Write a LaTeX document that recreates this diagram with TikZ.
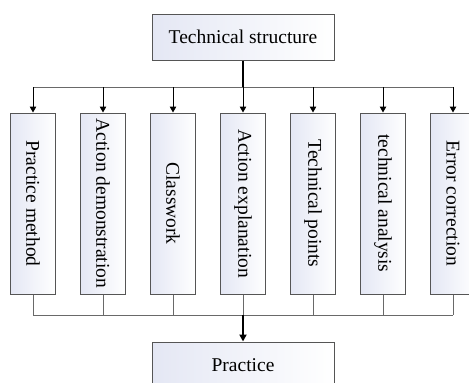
\documentclass[tikz,border=0pt]{standalone}
\usepackage{fontspec}
\setmainfont{Liberation Serif}
\usepackage{tikz}
\usetikzlibrary{positioning, arrows.meta}
\definecolor{boxleft}{RGB}{228,231,244}
\definecolor{boxline}{RGB}{85,85,85}
\definecolor{busline}{RGB}{105,105,105}

\begin{document}
\begin{tikzpicture}[x=1pt, y=-1pt,
    box/.style={draw=boxline, line width=1pt, left color=boxleft, right color=white,
        inner sep=0pt, font=\fontsize{19.5}{22}\selectfont, text=black},
    headbox/.style={box, minimum width=182pt, minimum height=46pt},
    colbox/.style={box, minimum width=45pt, minimum height=181pt},
    bus/.style={draw=busline, line width=1pt},
    feed/.style={-{Triangle[length=6pt, width=6.5pt]}, line width=1pt, black},
    main/.style={line width=1.8pt, black}]
    \useasboundingbox (0,0) rectangle (469,383);

    % Titre
    \node[headbox] (struct) at (243,37) {Technical structure};

    % Colonnes
    \node[colbox] (c1) at (33,203.5) {\rotatebox{-90}{Practice method}};
    \node[colbox] (c2) at (103,203.5) {\rotatebox{-90}{Action demonstration}};
    \node[colbox] (c3) at (173,203.5) {\rotatebox{-90}{Classwork}};
    \node[colbox] (c4) at (243,203.5) {\rotatebox{-90}{Action explanation}};
    \node[colbox] (c5) at (313,203.5) {\rotatebox{-90}{Technical points}};
    \node[colbox] (c6) at (383,203.5) {\rotatebox{-90}{technical analysis}};
    \node[colbox] (c7) at (453,203.5) {\rotatebox{-90}{Error correction}};

    % Bas
    \node[headbox] (practice) at (243,365) {Practice};

    % Barres
    \coordinate (topbus) at (243,87);
    \coordinate (lowbus) at (243,315);

    \draw[bus] (c1.north |- topbus) -- (c7.north |- topbus);
    \draw[bus] (c1.south |- lowbus) -- (c7.south |- lowbus);
    \draw[main] (struct.south) -- (topbus);

    % Fleches
    \foreach \i in {1,...,7} {
        \draw[feed] (c\i.north |- topbus) -- (c\i.north);
        \draw[bus] (c\i.south) -- (c\i.south |- lowbus);
    }
    \draw[main, -{Triangle[length=7pt, width=7pt]}] (lowbus) -- (practice.north);
\end{tikzpicture}
\end{document}
